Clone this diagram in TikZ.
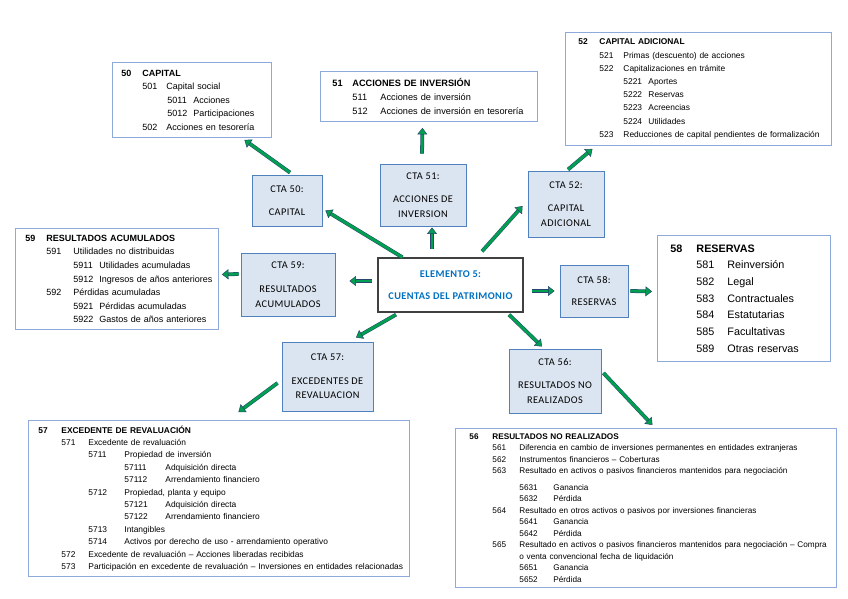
\documentclass[tikz,border=0pt]{standalone}
\usepackage{fontspec}
\setmainfont{Liberation Sans}
\newfontfamily\ctafont[LetterSpace=4]{Carlito}
\usetikzlibrary{arrows.meta}
\definecolor{ctafill}{RGB}{219,229,241}
\definecolor{ctaline}{RGB}{79,129,189}
\definecolor{detailline}{RGB}{142,170,219}
\definecolor{titleblue}{RGB}{0,112,192}
\definecolor{flowgreen}{RGB}{0,160,80}
\definecolor{flowedge}{RGB}{40,70,110}
\newcommand{\acct}[4]{\mbox{\hspace*{#1}\makebox[#2][l]{#3}#4}}

\begin{document}
\begin{tikzpicture}[
    x=1pt, y=-1pt,
    cta/.style={rectangle, draw=ctaline, fill=ctafill, line width=0.9pt, align=center,
        inner sep=1pt, font=\ctafont\fontsize{10.3}{14.5}\selectfont},
    detail/.style={rectangle, draw=detailline, line width=0.9pt, fill=white,
        anchor=north west, align=left, inner ysep=1pt},
    flow/.style={draw=flowgreen, line width=2.8pt,
        -{Triangle[length=6.5pt, width=10pt, color=flowedge, fill=flowgreen, line width=0.5pt]},
        preaction={draw=flowedge, line width=3.8pt, -, shorten >=5pt}}
]
\useasboundingbox (0,0) rectangle (848,599);

% Central node
\node[rectangle, draw=black!75, line width=1.3pt, fill=white, minimum width=145pt, minimum height=54pt,
    align=center, text=titleblue, font=\ctafont\bfseries\fontsize{10.3}{14}\selectfont]
    (ce) at (450.5,285) {ELEMENTO 5:\\[8pt]CUENTAS DEL PATRIMONIO};

% Account nodes
\node[cta, minimum width=70pt, minimum height=51pt] (c50) at (287,200.5) {CTA 50:\\[9pt]CAPITAL};
\node[cta, minimum width=86pt, minimum height=62pt] (c51) at (423,195) {CTA 51:\\[9pt]ACCIONES DE\\INVERSION};
\node[cta, minimum width=76pt, minimum height=66pt] (c52) at (566,204) {CTA 52:\\[9pt]CAPITAL\\ADICIONAL};
\node[cta, minimum width=94pt, minimum height=63pt] (c59) at (288,284.5) {CTA 59:\\[10pt]RESULTADOS\\ACUMULADOS};
\node[cta, minimum width=68pt, minimum height=52pt] (c58) at (594,291) {CTA 58:\\[8pt]RESERVAS};
\node[cta, minimum width=91pt, minimum height=69pt] (c57) at (327.5,376.5) {CTA 57:\\[9pt]EXCEDENTES DE\\REVALUACION};
\node[cta, minimum width=92pt, minimum height=64pt] (c56) at (555,381) {CTA 56:\\[9pt]RESULTADOS NO\\REALIZADOS};

% Detail boxes
\node[detail, inner xsep=9pt, text width=141pt, minimum height=75pt,
    font=\fontsize{9}{13.5}\selectfont] (b50) at (112,62) {%
\acct{0pt}{21pt}{\textbf{50}}{\textbf{CAPITAL}}\\
\acct{21pt}{24pt}{501}{Capital social}\\
\acct{46pt}{26pt}{5011}{Acciones}\\
\acct{46pt}{26pt}{5012}{Participaciones}\\
\acct{21pt}{24pt}{502}{Acciones en tesorería}};

\node[detail, inner xsep=12pt, text width=193pt, minimum height=50pt,
    font=\fontsize{9.2}{14}\selectfont] (b51) at (320,71) {%
\acct{0pt}{20pt}{\textbf{51}}{\textbf{ACCIONES DE INVERSIÓN}}\\
\acct{20pt}{28pt}{511}{Acciones de inversión}\\
\acct{20pt}{28pt}{512}{Acciones de inversión en tesorería}};

\node[detail, inner xsep=13pt, text width=240pt, minimum height=113pt,
    font=\fontsize{8.4}{13.2}\selectfont] (b52) at (565,32) {%
\acct{0pt}{21pt}{\textbf{52}}{\textbf{CAPITAL ADICIONAL}}\\
\acct{21pt}{24pt}{521}{Primas (descuento) de acciones}\\
\acct{21pt}{24pt}{522}{Capitalizaciones en trámite}\\
\acct{45pt}{25pt}{5221}{Aportes}\\
\acct{45pt}{25pt}{5222}{Reservas}\\
\acct{45pt}{25pt}{5223}{Acreencias}\\
\acct{45pt}{25pt}{5224}{Utilidades}\\
\acct{21pt}{24pt}{523}{Reducciones de capital pendientes de formalización}};

\node[detail, inner xsep=10pt, text width=183pt, minimum height=101pt,
    font=\fontsize{9}{13.6}\selectfont] (b59) at (15,228) {%
\acct{0pt}{21pt}{\textbf{59}}{\textbf{RESULTADOS ACUMULADOS}}\\
\acct{21pt}{27pt}{591}{Utilidades no distribuidas}\\
\acct{48pt}{26pt}{5911}{Utilidades acumuladas}\\
\acct{48pt}{26pt}{5912}{Ingresos de años anteriores}\\
\acct{21pt}{27pt}{592}{Pérdidas acumuladas}\\
\acct{48pt}{26pt}{5921}{Pérdidas acumuladas}\\
\acct{48pt}{26pt}{5922}{Gastos de años anteriores}};

\node[detail, inner xsep=13pt, text width=147pt, minimum height=126pt,
    font=\fontsize{10.8}{16.7}\selectfont] (b58) at (657,235) {%
\acct{0pt}{26pt}{\textbf{58}}{\textbf{RESERVAS}}\\
\acct{26pt}{31pt}{581}{Reinversión}\\
\acct{26pt}{31pt}{582}{Legal}\\
\acct{26pt}{31pt}{583}{Contractuales}\\
\acct{26pt}{31pt}{584}{Estatutarias}\\
\acct{26pt}{31pt}{585}{Facultativas}\\
\acct{26pt}{31pt}{589}{Otras reservas}};

\node[detail, inner xsep=10pt, text width=361pt, minimum height=156pt,
    font=\fontsize{8.4}{12.4}\selectfont] (b57) at (28,420) {%
\acct{0pt}{23pt}{\textbf{57}}{\textbf{EXCEDENTE DE REVALUACIÓN}}\\
\acct{23pt}{27pt}{571}{Excedente de revaluación}\\
\acct{50pt}{36pt}{5711}{Propiedad de inversión}\\
\acct{86pt}{41pt}{57111}{Adquisición directa}\\
\acct{86pt}{41pt}{57112}{Arrendamiento financiero}\\
\acct{50pt}{36pt}{5712}{Propiedad, planta y equipo}\\
\acct{86pt}{41pt}{57121}{Adquisición directa}\\
\acct{86pt}{41pt}{57122}{Arrendamiento financiero}\\
\acct{50pt}{36pt}{5713}{Intangibles}\\
\acct{50pt}{36pt}{5714}{Activos por derecho de uso - arrendamiento operativo}\\
\acct{23pt}{27pt}{572}{Excedente de revaluación – Acciones liberadas recibidas}\\
\acct{23pt}{27pt}{573}{Participación en excedente de revaluación – Inversiones en entidades relacionadas}};

\node[detail, inner xsep=14pt, text width=353pt, minimum height=159pt,
    font=\fontsize{8.2}{11.5}\selectfont] (b56) at (455,428) {%
\acct{0pt}{23pt}{\textbf{56}}{\textbf{RESULTADOS NO REALIZADOS}}\\
\acct{23pt}{27pt}{561}{Diferencia en cambio de inversiones permanentes en entidades extranjeras}\\
\acct{23pt}{27pt}{562}{Instrumentos financieros – Coberturas}\\
\acct{23pt}{27pt}{563}{Resultado en activos o pasivos financieros mantenidos para negociación}\\[5pt]
\acct{50pt}{34pt}{5631}{Ganancia}\\
\acct{50pt}{34pt}{5632}{Pérdida}\\
\acct{23pt}{27pt}{564}{Resultado en otros activos o pasivos por inversiones financieras}\\
\acct{50pt}{34pt}{5641}{Ganancia}\\
\acct{50pt}{34pt}{5642}{Pérdida}\\
\acct{23pt}{27pt}{565}{Resultado en activos o pasivos financieros mantenidos para negociación – Compra}\\
\acct{50pt}{0pt}{}{o venta convencional fecha de liquidación}\\
\acct{50pt}{34pt}{5651}{Ganancia}\\
\acct{50pt}{34pt}{5652}{Pérdida}};

% Arrows from the central node
\draw[flow] ([xshift=-48pt]ce.north) -- ([xshift=3pt,yshift=-10pt]c50.east);
\draw[flow] ([xshift=-18.5pt,yshift=8pt]ce.north) -- ([xshift=9pt,yshift=-1pt]c51.south);
\draw[flow] ([xshift=31.5pt,yshift=6pt]ce.north) -- ([xshift=-5pt,yshift=-2pt]c52.west);
\draw[flow] ([xshift=-5pt,yshift=4pt]ce.west) -- ([xshift=14pt,yshift=3.5pt]c59.east);
\draw[flow] ([xshift=8pt,yshift=-6pt]ce.east) -- ([xshift=-5pt]c58.west);
\draw[flow] ([xshift=-54.5pt,yshift=-2pt]ce.south) -- ([xshift=28.5pt,yshift=4pt]c57.north);
\draw[flow] ([xshift=58.5pt,yshift=-2pt]ce.south) -- ([xshift=-13pt,yshift=2pt]c56.north);

% Arrows to the detail boxes
\draw[flow] ([xshift=3pt,yshift=2pt]c50.north) -- ([xshift=52.5pt,yshift=-2pt]b50.south);
\draw[flow] ([xshift=-1pt,yshift=10pt]c51.north) -- ([xshift=-6.5pt,yshift=-6pt]b51.south);
\draw[flow] ([xshift=2pt,yshift=1pt]c52.north) -- ([xshift=-106pt,yshift=-3pt]b52.south);
\draw[flow] ([xshift=-2pt,yshift=10.5pt]c59.west) -- ([xshift=3pt,yshift=4.5pt]b59.east);
\draw[flow] ([xshift=2pt]c58.east) -- ([xshift=-5pt,yshift=7pt]b58.west);
\draw[flow] ([xshift=-4pt,yshift=-6.5pt]c57.west) -- ([xshift=19.5pt,yshift=8pt]b57.north);
\draw[flow] ([xshift=2pt,yshift=8pt]c56.east) -- ([xshift=6.5pt,yshift=3pt]b56.north);

\end{tikzpicture}
\end{document}
